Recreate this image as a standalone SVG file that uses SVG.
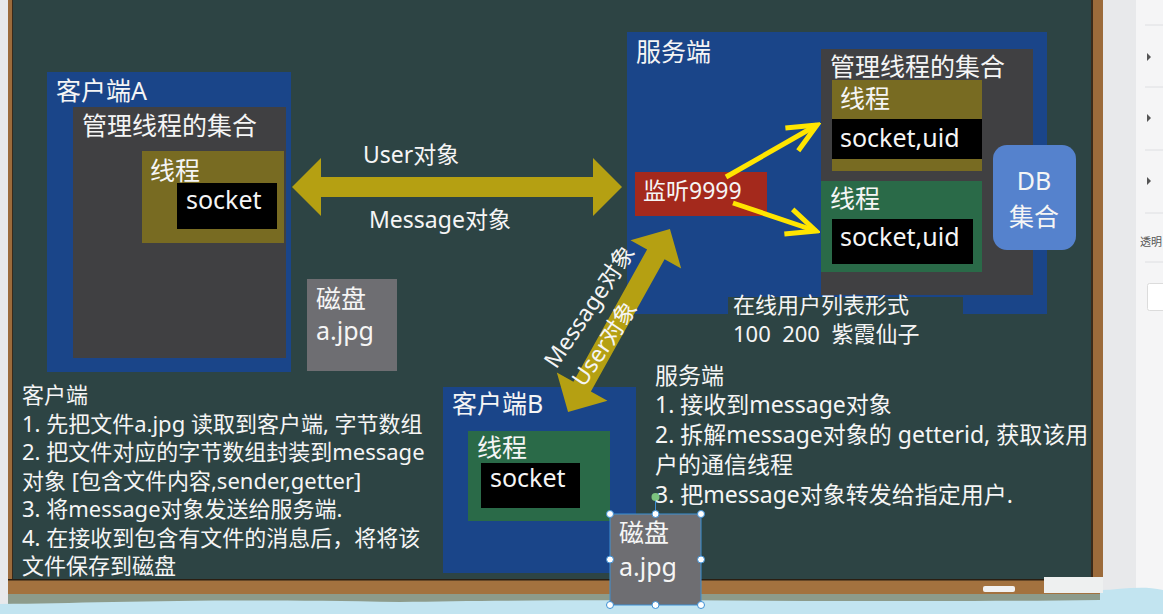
<svg xmlns="http://www.w3.org/2000/svg" width="1163" height="614" viewBox="0 0 1163 614">
<defs>
<style>
.t{font-family:"Noto Sans","Noto Sans CJK SC",sans-serif;fill:#f5f5f5}
.f25{font-size:25px}
.f23{font-size:23px}
.f22{font-size:22px}
.blue{fill:#1a4589}
.dgray{fill:#404042}
.olive{fill:#786b22}
.green{fill:#2a6a48}
.blk{fill:#000}
.disk{fill:#6e6e72}
.big{fill:#b5a012}
.ylw{fill:none;stroke:#ffe500;stroke-width:5}
.handle{fill:#fff;stroke:#3d8fd4;stroke-width:1}
.sep{stroke:#dedfe2;stroke-width:1}
</style>
<marker id="chev" markerUnits="userSpaceOnUse" viewBox="-34 -18 38 36" refX="0" refY="0" markerWidth="38" markerHeight="36" orient="auto">
<path d="M-29,-13 L0,0 L-29,13" fill="none" stroke="#ffe500" stroke-width="5"/>
</marker>
</defs>

<!-- page background and board frame -->
<g id="frame">
<rect x="0" y="0" width="1163" height="614" fill="#e8e9eb"/>
<rect x="1136" y="0" width="27" height="614" fill="#f5f5f6"/>
<rect x="13" y="0" width="1079" height="580" fill="#2d4444"/>
<rect x="8" y="0" width="5" height="600" fill="#9c6b3b"/>
<rect x="12" y="0" width="1" height="580" fill="#3a2a1a"/>
<rect x="1091" y="0" width="12" height="595" fill="#9c6b3b"/>
<rect x="1091" y="0" width="2" height="580" fill="#3a2a1a"/>
<rect x="8" y="579" width="1095" height="16" fill="#a3723f"/>
<rect x="8" y="579" width="1084" height="1.5" fill="#2a1e12"/>
<rect x="8" y="594" width="1095" height="10" fill="#8d9b8b"/>
<path d="M0,604 L0,614 L1163,614 L1163,590 C1140,585 1120,590 1100,590 L1100,600 C900,603 600,598 400,602 C200,598 100,603 0,604 Z" fill="#c2e4f0"/>
<rect x="1044" y="577" width="59" height="16" fill="#eef0f0"/>
<rect x="983" y="586" width="32" height="6" rx="2" fill="#f2f2f2"/>
</g>

<!-- side panel chrome -->
<g id="side-panel">
<line class="sep" x1="1145" y1="25" x2="1163" y2="25"/>
<line class="sep" x1="1145" y1="87" x2="1163" y2="87"/>
<line class="sep" x1="1145" y1="150" x2="1163" y2="150"/>
<line class="sep" x1="1145" y1="213" x2="1163" y2="213"/>
<line class="sep" x1="1145" y1="262" x2="1163" y2="262"/>
<path d="M1147,53 L1151,57 L1147,61 Z" fill="#555"/>
<path d="M1147,114 L1151,118 L1147,122 Z" fill="#555"/>
<path d="M1147,177 L1151,181 L1147,185 Z" fill="#555"/>
<text x="1140" y="246" font-family="Noto Sans CJK SC, sans-serif" font-size="11" fill="#555">透明</text>
<rect x="1147.5" y="283.5" width="20" height="27" rx="2" fill="#fff" stroke="#dcdcdc"/>
</g>

<!-- client A -->
<g id="clientA">
<rect class="blue" x="47" y="72" width="244" height="300"/>
<text class="t f25" x="56" y="100">客户端A</text>
</g>
<g id="clientA-collection">
<rect class="dgray" x="73" y="107" width="213" height="251"/>
<text class="t f25" x="82" y="135">管理线程的集合</text>
</g>
<g id="clientA-thread">
<rect class="olive" x="142" y="151" width="142" height="92"/>
<text class="t f25" x="150" y="180">线程</text>
<rect class="blk" x="177" y="183" width="100" height="46"/>
<text class="t f25" x="186" y="209">socket</text>
</g>
<g id="diskA">
<rect class="disk" x="307" y="279" width="90" height="92"/>
<text class="t f25" x="316" y="308">磁盘</text>
<text class="t f25" x="316" y="340">a.jpg</text>
</g>

<!-- server -->
<g id="server">
<rect class="blue" x="627" y="32" width="420" height="282"/>
<text class="t f25" x="636" y="61">服务端</text>
</g>
<g id="server-collection">
<rect class="dgray" x="821" y="49" width="212" height="246"/>
<text class="t f25" x="830" y="76">管理线程的集合</text>
</g>
<g id="server-thread1">
<rect class="olive" x="832" y="80" width="150" height="91"/>
<text class="t f25" x="840" y="108">线程</text>
<rect class="blk" x="832" y="119" width="150" height="40"/>
<text class="t f25" x="840" y="147">socket,uid</text>
</g>
<g id="server-thread2">
<rect class="green" x="821" y="181" width="161" height="91"/>
<text class="t f25" x="830" y="208">线程</text>
<rect class="blk" x="832" y="219" width="141" height="45"/>
<text class="t f25" x="840" y="246">socket,uid</text>
</g>
<g id="listen">
<rect x="635" y="172" width="132" height="44" fill="#a4291c"/>
<text class="t f23" x="643" y="199">监听9999</text>
</g>
<g id="db">
<rect x="993" y="145" width="83" height="105" rx="14" fill="#5582cd"/>
<text class="t f25" x="1034" y="190" text-anchor="middle">DB</text>
<text class="t f25" x="1034" y="226" text-anchor="middle">集合</text>
</g>
<g id="online-list">
<rect x="728" y="297" width="235" height="53" fill="#2d4444"/>
<text class="t f22" x="733" y="313">在线用户列表形式</text>
<text class="t f22" x="733" y="342" xml:space="preserve">100&#160;&#160;200&#160;&#160;紫霞仙子</text>
</g>

<!-- client B -->
<g id="clientB">
<rect class="blue" x="443" y="387" width="193" height="186"/>
<text class="t f25" x="452" y="413">客户端B</text>
</g>
<g id="clientB-thread">
<rect class="green" x="468" y="431" width="142" height="90"/>
<text class="t f25" x="477" y="457">线程</text>
<rect class="blk" x="481" y="463" width="99" height="45"/>
<text class="t f25" x="490" y="487">socket</text>
</g>
<g id="diskB">
<rect class="disk" x="610" y="514" width="91" height="91"/>
<text class="t f25" x="619" y="542">磁盘</text>
<text class="t f25" x="619" y="576">a.jpg</text>
<rect x="610" y="514" width="91" height="91" fill="none" stroke="#3d8fd4" stroke-width="1"/>
<line x1="655.5" y1="501" x2="655.5" y2="514" stroke="#3d8fd4" stroke-width="1"/>
<circle cx="655.5" cy="497" r="4" fill="#7cc47f"/>
<circle class="handle" cx="610" cy="514" r="3.5"/>
<circle class="handle" cx="655.5" cy="514" r="3.5"/>
<circle class="handle" cx="701" cy="514" r="3.5"/>
<circle class="handle" cx="610" cy="559.5" r="3.5"/>
<circle class="handle" cx="701" cy="559.5" r="3.5"/>
<circle class="handle" cx="610" cy="605" r="3.5"/>
<circle class="handle" cx="655.5" cy="605" r="3.5"/>
<circle class="handle" cx="701" cy="605" r="3.5"/>
</g>

<!-- connectors -->
<g id="connectors">
<path class="big" d="M292,187 L321,158 L321,177 L593,177 L593,158 L622,187 L593,216 L593,197 L321,197 L321,216 Z"/>
<text class="t f23" x="363" y="163">User对象</text>
<text class="t f23" x="369" y="228">Message对象</text>
<path class="big" transform="translate(619,320.5) rotate(-60.9)" d="M-104.75,0 L-75.75,-29 L-75.75,-10 L75.75,-10 L75.75,-29 L104.75,0 L75.75,29 L75.75,10 L-75.75,10 L-75.75,29 Z"/>
<text class="t f23" text-anchor="middle" transform="translate(596,311) rotate(-56)">Message对象</text>
<text class="t f23" text-anchor="middle" transform="translate(611,348) rotate(-56)">User对象</text>
<line class="ylw" x1="726" y1="177" x2="817" y2="125" marker-end="url(#chev)"/>
<line class="ylw" x1="733" y1="203" x2="816" y2="231" marker-end="url(#chev)"/>
</g>

<!-- notes -->
<g id="notes-client">
<text class="t f22" x="22" y="403">客户端</text>
<text class="t f22" x="22" y="432">1. 先把文件a.jpg 读取到客户端, 字节数组</text>
<text class="t f22" x="22" y="460">2. 把文件对应的字节数组封装到message</text>
<text class="t f22" x="22" y="489">对象 [包含文件内容,sender,getter]</text>
<text class="t f22" x="22" y="517">3. 将message对象发送给服务端.</text>
<text class="t f22" x="22" y="546">4. 在接收到包含有文件的消息后，将将该</text>
<text class="t f22" x="22" y="574">文件保存到磁盘</text>
</g>
<g id="notes-server">
<text class="t f23" x="655" y="384">服务端</text>
<text class="t f23" x="655" y="413">1. 接收到message对象</text>
<text class="t f23" x="655" y="443">2. 拆解message对象的 getterid, 获取该用</text>
<text class="t f23" x="655" y="473">户的通信线程</text>
<text class="t f23" x="655" y="503">3. 把message对象转发给指定用户.</text>
</g>
</svg>
